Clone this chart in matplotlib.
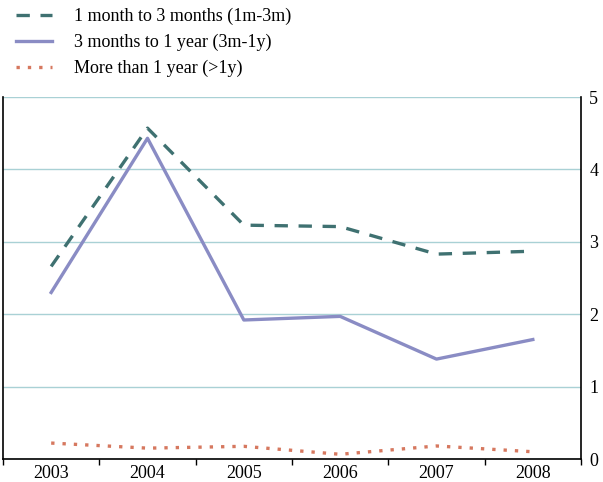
import matplotlib
matplotlib.use("Agg")
import matplotlib.pyplot as plt
import numpy as np

years = ["2003", "2004", "2005", "2006", "2007", "2008"]
m1_3 = [2.66, 4.57, 3.23, 3.21, 2.83, 2.87]
m3_1y = [2.30, 4.43, 1.92, 1.97, 1.38, 1.65]
gt1y = [0.22, 0.15, 0.175, 0.065, 0.18, 0.10]
labels = ["1 month to 3 months (1m-3m)", "3 months to 1 year (3m-1y)", "More than 1 year (>1y)"]
yticks = [0, 1, 2, 3, 4, 5]

plt.rcParams['font.family'] = ['Liberation Serif', 'DejaVu Serif']

fig = plt.figure(figsize=(6.03, 4.82), dpi=100)
ax = fig.add_axes([3/603, 23/482, 578/603, 362/482])

x = np.arange(len(years))
c_dash = "#3f7171"
c_solid = "#8a8cc4"
c_dot = "#d6785f"

l1, = ax.plot(x, m1_3, color=c_dash, lw=2.4, dashes=(4, 3.2), label=labels[0])
l2, = ax.plot(x, m3_1y, color=c_solid, lw=2.4, label=labels[1])
l3, = ax.plot(x, gt1y, color=c_dot, lw=2.4, dashes=(1, 2.4), label=labels[2])

ax.set_xlim(-0.5, 5.5)
ax.set_ylim(0, 5)
ax.set_xticks(x)
ax.set_xticklabels(years, fontsize=13)
ax.set_xticks(np.arange(-0.5, 6.0, 1.0), minor=True)
ax.tick_params(axis='x', which='major', length=0, pad=4)
ax.tick_params(axis='x', which='minor', length=4, width=1, color='black')

ax.yaxis.tick_right()
ax.set_yticks(yticks)
ax.set_yticklabels([str(v) for v in yticks], fontsize=13)
ax.tick_params(axis='y', length=0, pad=6)
ax.grid(axis='y', color='#a9d1d5', lw=1)
ax.set_axisbelow(True)

ax.spines['top'].set_visible(False)
for s in ['left', 'right', 'bottom']:
    ax.spines[s].set_color('black')
    ax.spines[s].set_linewidth(1.2)

fig.legend(handles=[l1, l2, l3], loc='upper left', bbox_to_anchor=(4/603, 1 + 4/482),
           frameon=False, fontsize=13, handlelength=2.0, handletextpad=1.2,
           labelspacing=0.48, borderaxespad=0.25)

fig.savefig("out.png", dpi=100)
